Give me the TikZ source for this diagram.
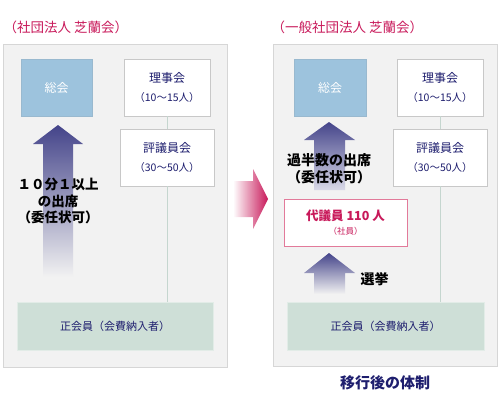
\documentclass[tikz,border=0pt]{standalone}
\usepackage{fontspec}
\setmainfont{Noto Sans CJK JP}
\usepackage{xcolor}
\usetikzlibrary{positioning}

\definecolor{titlered}{RGB}{200,25,90}
\definecolor{navytext}{RGB}{30,30,110}
\definecolor{panelgray}{RGB}{242,242,242}
\definecolor{panelline}{RGB}{214,214,214}
\definecolor{boxline}{RGB}{200,200,200}
\definecolor{soukaiblue}{RGB}{157,195,221}
\definecolor{seigreen}{RGB}{206,223,215}
\definecolor{linkgreen}{RGB}{197,214,207}
\definecolor{daigipink}{RGB}{226,122,154}
\definecolor{arrowblue}{RGB}{68,68,138}

\tikzset{
  panel/.style={fill=panelgray, draw=panelline, line width=1pt},
  soukaibox/.style={fill=soukaiblue, draw=soukaiblue!85!gray, line width=0.6pt,
    minimum width=71pt, minimum height=57pt, text=white,
    font=\fontsize{12}{14}\selectfont},
  whitebox/.style={fill=white, draw=boxline, line width=0.8pt,
    minimum height=57pt, align=center, text=navytext,
    font=\fontsize{12}{19}\selectfont},
  seibox/.style={fill=seigreen, draw=seigreen!60!white, line width=0.6pt,
    minimum width=196pt, minimum height=48pt, text=navytext,
    font=\fontsize{11}{13}\selectfont},
  daigibox/.style={fill=white, draw=daigipink, line width=0.8pt,
    minimum width=123pt, minimum height=47pt, align=center, text=titlered,
    font=\bfseries\fontsize{12.5}{14}\selectfont},
  linkline/.style={draw=linkgreen, line width=0.8pt},
  titletext/.style={anchor=west, text=titlered, font=\fontsize{13.5}{15}\selectfont},
  arrowtext/.style={align=center, text=black, font=\bfseries\fontsize{13.5}{16.5}\selectfont}
}

\begin{document}
\begin{tikzpicture}[x=1pt, y=-1pt]
    \useasboundingbox (0,0) rectangle (500,410);

    % Tiêu đề hai bên
    \node[titletext] (titleL) at (0,27) {（社団法人 芝蘭会）};
    \node[titletext] (titleR) at (268,27) {（一般社団法人 芝蘭会）};

    % Khung nền
    \filldraw[panel] (3,44) rectangle (227,367);
    \filldraw[panel] (273,44) rectangle (497,366);

    % Bên trái: các hộp
    \node[soukaibox] (soukaiL) at (56.5,87.5) {総会};
    \node[whitebox, minimum width=86pt] (rijiL) at (167,87.5)
        {理事会\\{\fontsize{10.5}{19}\selectfont（10～15人）}};
    \node[whitebox, minimum width=94pt] (hyogiL) at (167,157.5)
        {評議員会\\{\fontsize{10.5}{19}\selectfont（30～50人）}};
    \node[seibox] (seiL) at (115,326) {正会員（会費納入者）};
    \draw[linkline] (rijiL.south) -- (hyogiL.north);
    \draw[linkline] (hyogiL.south) -- (hyogiL.south |- seiL.north);

    % Mũi tên bên trái
    \shade[top color=arrowblue, bottom color=panelgray]
        (43,277) -- (43,144) -- (33,144) -- (58,125) -- (83,144) -- (73,144) -- (73,277) -- cycle;
    \node[arrowtext] (votesL) at (58,201)
        {１０分１以上\\の出席\\（委任状可）};

    % Mũi tên ở giữa
    \shade[left color=white, right color=titlered]
        (233,181) -- (253,181) -- (253,169) -- (268,199) -- (253,229) -- (253,217) -- (233,217) -- cycle;

    % Bên phải: các hộp
    \node[soukaibox, minimum width=72pt] (soukaiR) at (330,87.5) {総会};
    \node[whitebox, minimum width=86pt] (rijiR) at (440,87.5)
        {理事会\\{\fontsize{10.5}{19}\selectfont（10～15人）}};
    \node[whitebox, minimum width=94pt] (hyogiR) at (440,157.5)
        {評議員会\\{\fontsize{10.5}{19}\selectfont（30～50人）}};
    \node[daigibox] (daigiR) at (345.5,222.5)
        {代議員 110 人\\{\mdseries\fontsize{8.5}{14}\selectfont（社員）}};
    \node[seibox, minimum width=197pt] (seiR) at (385.5,326) {正会員（会費納入者）};
    \draw[linkline] (rijiR.south) -- (hyogiR.north);
    \draw[linkline] (hyogiR.south) -- (hyogiR.south |- seiR.north);

    % Mũi tên bên phải
    \shade[top color=arrowblue, bottom color=arrowblue!20!white]
        (314,190) -- (314,140) -- (304,140) -- (329,122) -- (355,140) -- (345,140) -- (345,190) -- cycle;
    \node[arrowtext, font=\bfseries\fontsize{14}{17}\selectfont] (votesR) at (329,168.5)
        {過半数の出席\\（委任状可）};
    \shade[top color=arrowblue, bottom color=panelgray]
        (314,294) -- (314,273) -- (304,273) -- (329,253) -- (355,273) -- (345,273) -- (345,294) -- cycle;
    \node[arrowtext, font=\bfseries\fontsize{14}{16}\selectfont] (senkyo) at (374.5,279) {選挙};

    % Chú thích dưới
    \node[text=navytext, font=\bfseries\fontsize{15}{17}\selectfont] (caption) at (385,383) {移行後の体制};
\end{tikzpicture}
\end{document}
